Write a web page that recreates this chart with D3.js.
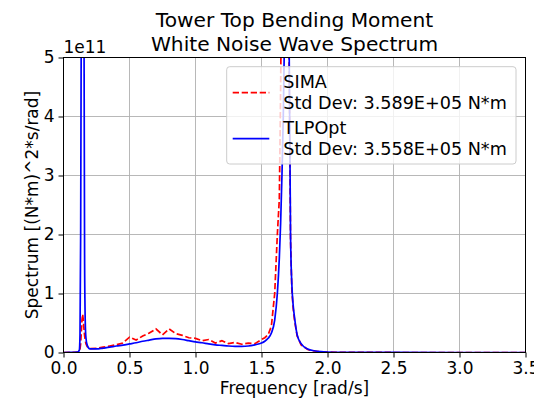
<!DOCTYPE html>
<html>
<head>
<meta charset="utf-8">
<script src="https://cdn.jsdelivr.net/npm/d3@7"></script>
<style>
    body { margin: 0; background: #fff; }
    svg text { font-family: "DejaVu Sans", sans-serif; fill: #000; }
</style>
</head>
<body>
<svg id="chart" width="534" height="399"></svg>
<script>
// frequency grid [rad/s], finer around the two resonance peaks
const freq = [
    0, 0.05, 0.1, 0.11, 0.12, 0.125, 0.13, 0.135, 0.14, 0.145, 0.15, 0.155, 0.16, 0.165, 0.17, 0.18,
    0.2, 0.25, 0.3, 0.35, 0.4, 0.45, 0.5, 0.55, 0.6, 0.65, 0.7, 0.75, 0.8, 0.85, 0.9, 0.95,
    1.0, 1.05, 1.1, 1.15, 1.2, 1.25, 1.3, 1.35, 1.4, 1.45, 1.5,
    1.525, 1.55, 1.575, 1.6, 1.62, 1.635, 1.645, 1.655, 1.665, 1.675, 1.685, 1.695, 1.705, 1.71,
    1.72, 1.73, 1.74, 1.75, 1.77, 1.8, 1.85, 1.9, 1.95, 2.0, 2.1, 2.5, 3.0, 3.5
];

// spectrum values in units of 1e11 (N*m)^2*s/rad
const simaSpec = [
    0, 0.001, 0.005, 0.008, 0.02, 0.06, 0.15, 0.35, 0.55, 0.65, 0.55, 0.4, 0.28, 0.2, 0.15, 0.1,
    0.065, 0.07, 0.09, 0.11, 0.13, 0.16, 0.26, 0.21, 0.28, 0.33, 0.40, 0.30, 0.40, 0.32, 0.29, 0.25,
    0.24, 0.20, 0.22, 0.16, 0.20, 0.15, 0.17, 0.14, 0.16, 0.15, 0.22,
    0.25, 0.30, 0.45, 1.0, 2.0, 2.6, 4.5, 7, 10, 10, 8, 6.5, 5.5, 4.8,
    1.9, 1.05, 0.75, 0.55, 0.28, 0.13, 0.05, 0.025, 0.012, 0.006, 0.002, 0.0004, 0.0002, 0.0001
];
const tlpSpec = [
    0, 0.001, 0.005, 0.01, 0.04, 0.3, 2.0, 6.0, 12, 15, 12, 6.0, 1.5, 0.5, 0.25, 0.12,
    0.06, 0.06, 0.075, 0.09, 0.11, 0.125, 0.145, 0.165, 0.19, 0.21, 0.23, 0.24, 0.24, 0.235, 0.22, 0.2,
    0.18, 0.165, 0.145, 0.13, 0.12, 0.11, 0.105, 0.105, 0.11, 0.13, 0.16,
    0.19, 0.24, 0.33, 0.55, 1.0, 1.6, 2.2, 3.0, 4.0, 5.5, 8, 9, 7, 5.0,
    2.0, 1.15, 0.8, 0.6, 0.3, 0.15, 0.06, 0.03, 0.015, 0.008, 0.003, 0.0005, 0.0002, 0.0001
];

const seriesNames = ["SIMA", "TLPOpt"];
const stdDevLabels = ["Std Dev: 3.589E+05 N*m", "Std Dev: 3.558E+05 N*m"];
const xTicks = [0, 0.5, 1.0, 1.5, 2.0, 2.5, 3.0, 3.5];
const yTicks = [0, 1, 2, 3, 4, 5];

const plotLeft = 63.5, plotRight = 525.5, plotTop = 57.5, plotBottom = 352.5;

const svg = d3.select("#chart");

const x = d3.scaleLinear().domain([0, 3.5]).range([plotLeft, plotRight]);
const y = d3.scaleLinear().domain([0, 5]).range([plotBottom, plotTop]);

svg.append("defs").append("clipPath")
    .attr("id", "plotclip")
    .append("rect")
    .attr("x", plotLeft).attr("y", plotTop)
    .attr("width", plotRight - plotLeft).attr("height", plotBottom - plotTop);

// grid
svg.append("g").selectAll("line").data(xTicks).join("line")
    .attr("x1", d => x(d)).attr("x2", d => x(d))
    .attr("y1", plotTop).attr("y2", plotBottom)
    .attr("stroke", "#b0b0b0").attr("stroke-width", 0.9);
svg.append("g").selectAll("line").data(yTicks).join("line")
    .attr("x1", plotLeft).attr("x2", plotRight)
    .attr("y1", d => y(d)).attr("y2", d => y(d))
    .attr("stroke", "#b0b0b0").attr("stroke-width", 0.9);

// curves
const line = d3.line()
    .x((d, i) => x(freq[i]))
    .y(d => y(d));

let plot = svg.append("g").attr("clip-path", "url(#plotclip)");
plot.append("path")
    .attr("d", line(simaSpec))
    .attr("fill", "none")
    .attr("stroke", "#ff0000")
    .attr("stroke-width", 1.7)
    .attr("stroke-dasharray", "6.3,2.7");
plot.append("path")
    .attr("d", line.curve(d3.curveMonotoneX)(tlpSpec))
    .attr("fill", "none")
    .attr("stroke", "#0000ff")
    .attr("stroke-width", 1.7);

// axes
let x_axis = svg.append("g")
    .attr("transform", "translate(0," + plotBottom + ")")
    .call(d3.axisBottom(x).tickValues(xTicks).tickFormat(d3.format(".1f"))
        .tickSize(5).tickPadding(4).tickSizeOuter(0));
let y_axis = svg.append("g")
    .attr("transform", "translate(" + plotLeft + ",0)")
    .call(d3.axisLeft(y).tickValues(yTicks).tickFormat(d3.format("d"))
        .tickSize(5).tickPadding(4).tickSizeOuter(0));
[x_axis, y_axis].forEach(a => {
    a.select(".domain").remove();
    a.selectAll("line").attr("stroke", "#000").attr("stroke-width", 1);
    a.selectAll("text").attr("font-size", 17).attr("font-family", "DejaVu Sans");
});

// frame
svg.append("rect")
    .attr("x", plotLeft).attr("y", plotTop)
    .attr("width", plotRight - plotLeft).attr("height", plotBottom - plotTop)
    .attr("fill", "none").attr("stroke", "#000").attr("stroke-width", 1);

// offset text
svg.append("text")
    .attr("x", plotLeft).attr("y", 53)
    .attr("font-size", 17)
    .text("1e11");

// titles
svg.append("text")
    .attr("x", (plotLeft + plotRight) / 2).attr("y", 26.7)
    .attr("text-anchor", "middle").attr("font-size", 20.2)
    .text("Tower Top Bending Moment");
svg.append("text")
    .attr("x", (plotLeft + plotRight) / 2).attr("y", 50.5)
    .attr("text-anchor", "middle").attr("font-size", 20.2)
    .text("White Noise Wave Spectrum");

svg.append("text")
    .attr("x", (plotLeft + plotRight) / 2).attr("y", 394.3)
    .attr("text-anchor", "middle").attr("font-size", 17)
    .text("Frequency [rad/s]");
svg.append("text")
    .attr("transform", "translate(38," + ((plotTop + plotBottom) / 2) + ") rotate(-90)")
    .attr("text-anchor", "middle").attr("font-size", 17)
    .text("Spectrum [(N*m)^2*s/rad]");

// legend
let legend = svg.append("g");
legend.append("rect")
    .attr("x", 226.7).attr("y", 66.7)
    .attr("width", 289.3).attr("height", 97.3)
    .attr("rx", 3)
    .attr("fill", "#fff").attr("fill-opacity", 0.8)
    .attr("stroke", "#cccccc").attr("stroke-width", 1);

const colors = ["#ff0000", "#0000ff"];
const dashes = ["6.3,2.7", null];
const handleY = [92.7, 138.7];
const textY = [88.3, 134];
seriesNames.forEach((name, i) => {
    legend.append("line")
        .attr("x1", 232.7).attr("x2", 269.3)
        .attr("y1", handleY[i]).attr("y2", handleY[i])
        .attr("stroke", colors[i]).attr("stroke-width", 1.7)
        .attr("stroke-dasharray", dashes[i]);
    let t = legend.append("text")
        .attr("x", 283.3).attr("y", textY[i])
        .attr("font-size", 17.6);
    t.append("tspan").attr("x", 283.3).text(name);
    t.append("tspan").attr("x", 283.3).attr("dy", 20.5).text(stdDevLabels[i]);
});
</script>
</body>
</html>
